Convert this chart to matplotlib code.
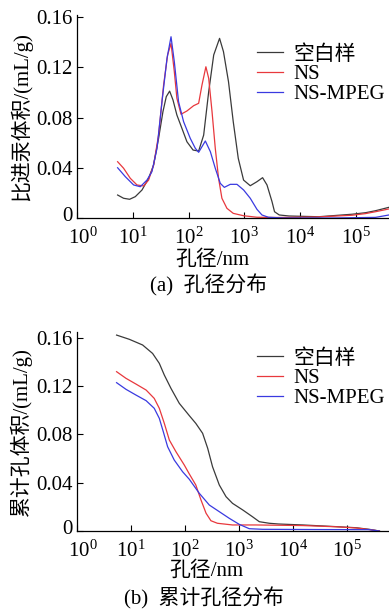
import numpy as np
import matplotlib
matplotlib.use("Agg")
import matplotlib.pyplot as plt
import matplotlib.transforms as mtransforms
from matplotlib.ticker import FixedLocator, NullLocator

plt.rcParams['font.family'] = ['Liberation Serif', 'Noto Sans CJK SC']
plt.rcParams['mathtext.fontset'] = 'stix'

labels = ['空白样', 'NS', 'NS-MPEG']
colors = ['#3a3a3a', '#e8383d', '#3a3ae0']

# (a) pore size distribution: log10(d/nm) and volume (mL/g)
a_blank_logx = [0.728, 0.835, 0.943, 1.045, 1.165, 1.283, 1.373, 1.462, 1.54, 1.60, 1.66, 1.72,
                1.79, 1.88, 1.97, 2.08, 2.18, 2.27, 2.36, 2.45, 2.555, 2.625, 2.715, 2.80,
                2.89, 2.985, 3.105, 3.225, 3.326, 3.405, 3.495, 3.54, 3.625, 3.80, 4.33,
                4.93, 5.17, 5.35, 5.59]
a_blank_v = [0.0183, 0.0157, 0.0149, 0.017, 0.0223, 0.0316, 0.0422, 0.0634, 0.0846, 0.0966, 0.101, 0.094,
             0.082, 0.0714, 0.0607, 0.0541, 0.0533, 0.066, 0.1005, 0.1298, 0.143, 0.1324, 0.1085, 0.0767,
             0.0475, 0.0302, 0.0257, 0.0289, 0.0321, 0.0263, 0.013, 0.005, 0.0024, 0.0016, 0.001,
             0.003, 0.0042, 0.0058, 0.0085]
a_ns_logx = [0.728, 0.835, 0.955, 1.075, 1.194, 1.283, 1.373, 1.462, 1.552, 1.624, 1.685, 1.744,
             1.79, 1.864, 1.97, 2.09, 2.18, 2.24, 2.31, 2.36, 2.42, 2.478, 2.537, 2.597,
             2.687, 2.80, 2.985, 3.225, 3.6, 4.3, 4.93, 5.17, 5.35, 5.59]
a_ns_v = [0.0448, 0.0396, 0.0316, 0.0263, 0.0255, 0.0302, 0.0422, 0.066, 0.1059, 0.1298, 0.139, 0.1165,
          0.0953, 0.0826, 0.0852, 0.0894, 0.0913, 0.1059, 0.1204, 0.1112, 0.0846, 0.0555, 0.0316, 0.0157,
          0.0077, 0.0037, 0.0018, 0.0006, 0.0004, 0.0008, 0.0022, 0.0035, 0.005, 0.0072]
a_mpeg_logx = [0.728, 0.866, 1.015, 1.134, 1.254, 1.343, 1.434, 1.523, 1.613, 1.685, 1.744, 1.82,
               1.91, 2.03, 2.12, 2.18, 2.30, 2.39, 2.478, 2.568, 2.64, 2.747, 2.867, 2.986,
               3.105, 3.225, 3.315, 3.43, 3.7, 4.6, 5.35, 5.59]
a_mpeg_v = [0.040, 0.0329, 0.0263, 0.0249, 0.0302, 0.0369, 0.0555, 0.0926, 0.1271, 0.1443, 0.1244, 0.0926,
            0.0767, 0.0634, 0.0555, 0.0523, 0.0613, 0.0528, 0.0396, 0.0276, 0.0244, 0.0268, 0.0268, 0.0223,
            0.0157, 0.0069, 0.0024, 0.0006, 0.0, 0.0, 0.0005, 0.0024]

# (b) cumulative pore volume (mL/g)
b_blank_logx = [0.733, 0.969, 1.215, 1.40, 1.524, 1.617, 1.74, 1.894, 2.08, 2.20, 2.326, 2.42,
                2.51, 2.635, 2.76, 2.88, 3.07, 3.25, 3.376, 3.56, 3.73, 4.18, 4.80, 5.17,
                5.41, 5.60]
b_blank_v = [0.1622, 0.1587, 0.154, 0.147, 0.1388, 0.1291, 0.1181, 0.1057, 0.0955, 0.0891, 0.0809, 0.0685,
             0.0532, 0.0381, 0.0284, 0.0229, 0.0174, 0.0118, 0.0077, 0.0064, 0.0058, 0.005, 0.0036, 0.0027,
             0.0014, 0.0]
b_ns_logx = [0.733, 0.907, 1.09, 1.28, 1.43, 1.524, 1.617, 1.71, 1.833, 1.987, 2.08, 2.20,
             2.296, 2.39, 2.48, 2.60, 2.88, 3.31, 4.18, 4.80, 5.17, 5.41, 5.60]
b_ns_v = [0.1319, 0.1264, 0.1217, 0.1167, 0.1098, 0.1016, 0.0891, 0.0753, 0.0656, 0.0546, 0.0472, 0.0381,
          0.0257, 0.0147, 0.0085, 0.0064, 0.005, 0.005, 0.0045, 0.0035, 0.0025, 0.0012, 0.0]
b_mpeg_logx = [0.733, 0.907, 1.09, 1.28, 1.43, 1.524, 1.598, 1.678, 1.80, 1.955, 2.08, 2.265,
               2.45, 2.635, 2.82, 3.005, 3.19, 3.437, 4.5, 5.41, 5.60]
b_mpeg_v = [0.1228, 0.1173, 0.1126, 0.1079, 0.1016, 0.0933, 0.0822, 0.0698, 0.0588, 0.0491, 0.0428, 0.0312,
            0.0215, 0.016, 0.0105, 0.0055, 0.0019, 0.0014, 0.0012, 0.0011, 0.0]

yticks = [0, 0.04, 0.08, 0.12, 0.16]
ytick_labels = ['0', '0.04', '0.08', '0.12', '0.16']

fs = 15
W, H = 389, 610
fig = plt.figure(figsize=(W / 100, H / 100), dpi=100)


def style(ax, xmax_log, ytop):
    ax.set_xscale('log')
    ax.set_xlim(1, 10 ** xmax_log)
    ax.set_ylim(0, ytop)
    ax.xaxis.set_major_locator(FixedLocator([10.0 ** k for k in range(6)]))
    ax.xaxis.set_minor_locator(NullLocator())
    ax.set_yticks(yticks)
    ax.set_yticklabels(ytick_labels)
    for s in ['top', 'right']:
        ax.spines[s].set_visible(False)
    for s in ['left', 'bottom']:
        ax.spines[s].set_linewidth(0.9)
    ax.tick_params(direction='in', length=4, width=0.8, labelsize=fs)
    ax.tick_params(axis='x', pad=7)
    ax.tick_params(axis='y', pad=3)
    # nudge the "10^0" and "0" labels apart, as in the original
    fig.canvas.draw()
    xl = ax.get_xticklabels()[0]
    xl.set_transform(xl.get_transform() + mtransforms.ScaledTranslation(4 / 72, 0, fig.dpi_scale_trans))
    yl = ax.get_yticklabels()[0]
    yl.set_transform(yl.get_transform() + mtransforms.ScaledTranslation(0, 3 / 72, fig.dpi_scale_trans))


ax1 = fig.add_axes([77 / W, 1 - 218 / H, 312 / W, 203.5 / H])
for lx, v, lab, c in zip([a_blank_logx, a_ns_logx, a_mpeg_logx], [a_blank_v, a_ns_v, a_mpeg_v], labels, colors):
    ax1.plot(10 ** np.array(lx), v, color=c, lw=0.9, label=lab)
style(ax1, 312 / 55.8, 0.162)
ax1.set_xlabel('孔径/nm', fontsize=fs)
ax1.xaxis.set_label_coords(0.433, -0.16)
ax1.set_ylabel('比进汞体积/(mL/g)', fontsize=fs)
ax1.yaxis.set_label_coords(-0.144, 0.5)
ax1.legend(loc='upper left', bbox_to_anchor=(0.577, 0.85), frameon=False, fontsize=fs,
           handlelength=1.25, handletextpad=0.5, labelspacing=0.0, borderpad=0, borderaxespad=0)

ax2 = fig.add_axes([77 / W, 1 - 531 / H, 311 / W, 199.3 / H])
for lx, v, lab, c in zip([b_blank_logx, b_ns_logx, b_mpeg_logx], [b_blank_v, b_ns_v, b_mpeg_v], labels, colors):
    ax2.plot(10 ** np.array(lx), v, color=c, lw=0.9, label=lab)
style(ax2, 311 / 54.0, 0.165)
ax2.set_xlabel('孔径/nm', fontsize=fs)
ax2.xaxis.set_label_coords(0.415, -0.15)
ax2.set_ylabel('累计孔体积/(mL/g)', fontsize=fs)
ax2.yaxis.set_label_coords(-0.145, 0.5)
ax2.legend(loc='upper left', bbox_to_anchor=(0.579, 0.913), frameon=False, fontsize=fs,
           handlelength=1.25, handletextpad=0.5, labelspacing=0.0, borderpad=0, borderaxespad=0)

fig.text(209 / W, 1 - 285 / H, '(a)  孔径分布', fontsize=fs, ha='center', va='center')
fig.text(204 / W, 1 - 598 / H, '(b)  累计孔径分布', fontsize=fs, ha='center', va='center')

fig.savefig('out.png', dpi=100)
